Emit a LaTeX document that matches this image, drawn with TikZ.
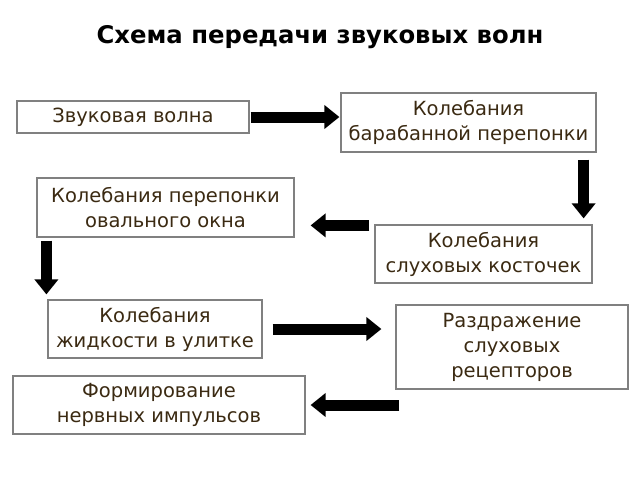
\documentclass[tikz,border=0pt]{standalone}
\usepackage{fontspec}
\setmainfont{DejaVu Sans}
\usepackage{tikz}
\usetikzlibrary{arrows.meta,positioning}
\definecolor{textbrown}{HTML}{3B2A12}
\definecolor{boxgray}{HTML}{808080}
\tikzset{
    mybox/.style={rectangle, draw=boxgray, line width=1.2pt, fill=white, text=textbrown, align=center, inner sep=0pt, font=\fontsize{19.5}{25}\selectfont},
    pil/.style={-{Triangle[length=15pt,width=23pt]}, line width=11pt, black}
}

\begin{document}
\begin{tikzpicture}[x=1pt, y=-1pt]
    \useasboundingbox (0,0) rectangle (640,480);
    \node[text=black, font=\fontsize{24.3}{28}\selectfont\bfseries] (title) at (320,37)
      {Схема передачи звуковых волн};

    \node[mybox, minimum width=232pt, minimum height=32pt] (wave) at (133,117)
      {Звуковая волна};
    \node[mybox, minimum width=255pt, minimum height=59pt] (drum) at (468.5,122.5)
      {Колебания\\барабанной перепонки};
    \node[mybox, minimum width=257pt, minimum height=59pt] (oval) at (165.5,207.5)
      {Колебания перепонки\\овального окна};
    \node[mybox, minimum width=217pt, minimum height=58pt] (ossicles) at (483.5,254)
      {Колебания\\слуховых косточек};
    \node[mybox, minimum width=214pt, minimum height=58pt] (liquid) at (155,329)
      {Колебания\\жидкости в улитке};
    \node[mybox, minimum width=232pt, minimum height=84pt] (receptors) at (512,347)
      {Раздражение\\слуховых\\рецепторов};
    \node[mybox, minimum width=292pt, minimum height=58pt] (nerve) at (159,405)
      {Формирование\\нервных импульсов};

    % arrows between the steps
    \draw[pil, shorten <=1pt, shorten >=1pt] (wave.east) -- (wave.east -| drum.west);
    \draw[pil, shorten <=7pt, shorten >=6pt] ([xshift=-13pt]drum.south east) -- ([xshift=-9pt]ossicles.north east);
    \draw[pil, shorten <=5pt, shorten >=16pt] ([yshift=-1pt]ossicles.north west) -- ([yshift=-1pt]ossicles.north west -| oval.east);
    \draw[pil, shorten <=3pt, shorten >=5pt] ([xshift=10pt]oval.south west) -- ([xshift=-1pt]liquid.north west);
    \draw[pil, shorten <=10pt, shorten >=14pt] (liquid.east) -- (liquid.east -| receptors.west);
    \draw[pil, shorten <=-4pt, shorten >=5pt] (nerve.east -| receptors.west) -- (nerve.east);
\end{tikzpicture}
\end{document}
